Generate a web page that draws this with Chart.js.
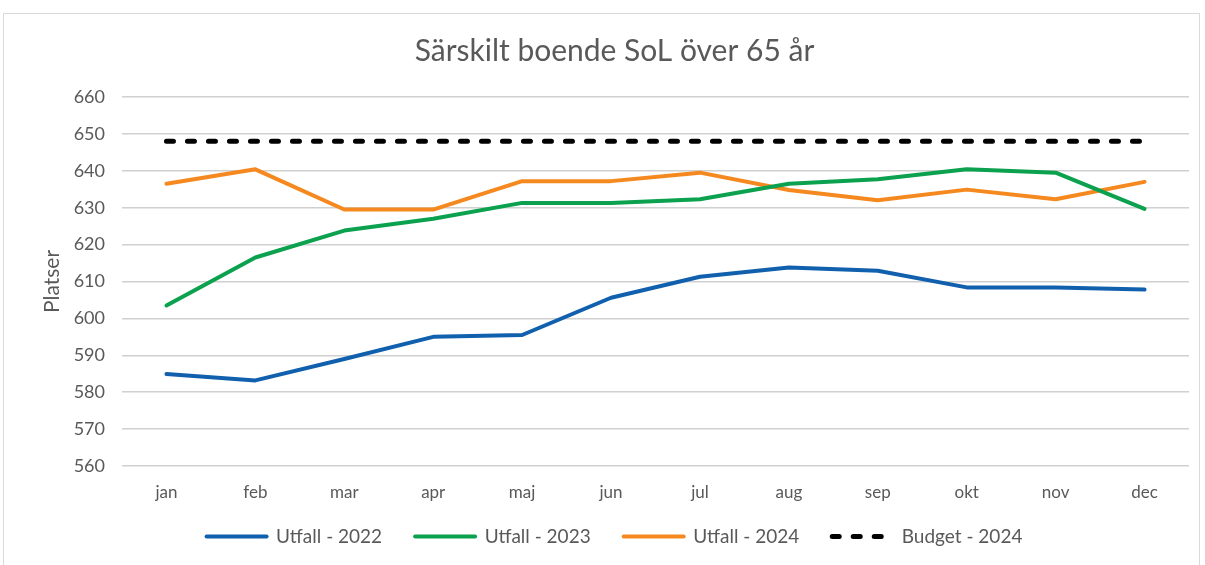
<!DOCTYPE html>
<html>
<head>
<meta charset="utf-8">
<script src="https://cdn.jsdelivr.net/npm/chart.js@4"></script>
<style>
  html, body { margin: 0; padding: 0; background: #fff; }
  #frame { position: absolute; left: 3px; top: 13px; width: 1197px; height: 560px; border: 1px solid #d9d9d9; box-sizing: border-box; }
  #wrap { position: absolute; left: 0; top: 0; width: 1205px; height: 565px; }
</style>
</head>
<body>
<div id="frame"></div>
<div id="wrap"><canvas id="c" width="1205" height="565"></canvas></div>
<script>
const months = ['jan','feb','mar','apr','maj','jun','jul','aug','sep','okt','nov','dec'];
const utfall2022 = [584.9, 583.2, 589.0, 595.0, 595.5, 605.6, 611.3, 613.8, 612.9, 608.4, 608.4, 607.8];
const utfall2023 = [603.5, 616.5, 623.8, 627.0, 631.3, 631.3, 632.3, 636.5, 637.7, 640.4, 639.5, 629.7];
const utfall2024 = [636.5, 640.4, 629.5, 629.5, 637.2, 637.2, 639.5, 634.8, 632.0, 634.9, 632.3, 637.0];
const budget2024 = [648, 648, 648, 648, 648, 648, 648, 648, 648, 648, 648, 648];
const yTicks = [560, 570, 580, 590, 600, 610, 620, 630, 640, 650, 660];

const FONT = 'Lato, "Open Sans", sans-serif';
const TXT = '#595959';

function ds(label, data, color, width, dash) {
  return {
    label, data,
    borderColor: color, backgroundColor: color,
    borderWidth: width,
    borderDash: dash || [],
    borderCapStyle: 'round',
    borderJoinStyle: 'round',
    pointRadius: 0, pointHoverRadius: 0,
    pointStyle: 'line',
    pointBorderWidth: width,
    tension: 0, fill: false
  };
}

// let the x-axis labels draw below the (shortened) axis box
const unclipXLabels = {
  id: 'unclipXLabels',
  afterLayout(chart) { chart.scales.x.bottom = chart.height; }
};

new Chart(document.getElementById('c'), {
  type: 'line',
  data: {
    labels: months,
    datasets: [
      ds('Utfall - 2022', utfall2022, '#1160AE', 4),
      ds('Utfall - 2023', utfall2023, '#0BA14F', 4),
      ds('Utfall - 2024', utfall2024, '#F5891F', 4),
      ds('Budget - 2024', budget2024, '#000000', 5, [7, 14])
    ]
  },
  plugins: [unclipXLabels],
  options: {
    responsive: false,
    animation: false,
    layout: { padding: { left: 40, right: 16, top: 0, bottom: 9 } },
    plugins: {
      title: {
        display: true,
        text: 'Särskilt boende SoL över 65 år',
        color: TXT,
        font: { family: FONT, size: 30, weight: 'normal' },
        padding: { top: 33, bottom: 28 }
      },
      legend: {
        position: 'bottom',
        labels: {
          usePointStyle: true,
          pointStyleWidth: 60,
          boxHeight: 4,
          color: TXT,
          font: { family: FONT, size: 19 },
          padding: 33,
          generateLabels: chart => {
            const items = Chart.defaults.plugins.legend.labels.generateLabels(chart);
            items.forEach(it => {
              const d = chart.data.datasets[it.datasetIndex];
              it.lineDash = d.borderDash;
              it.lineCap = 'round';
              it.lineWidth = d.borderWidth;
            });
            return items;
          }
        }
      },
      tooltip: { enabled: false }
    },
    scales: {
      x: {
        offset: true,
        grid: { display: false, drawTicks: false, offset: true },
        border: { display: false },
        ticks: { color: TXT, font: { family: FONT, size: 17 }, padding: 16, maxRotation: 0 },
        afterFit: s => { s.height = 28; }
      },
      y: {
        min: 560, max: 660,
        afterBuildTicks: s => { s.ticks = yTicks.map(v => ({ value: v })); },
        grid: { color: '#d0d0d0', lineWidth: 1.5, drawTicks: false },
        border: { display: false },
        title: { display: true, text: 'Platser', color: TXT, font: { family: FONT, size: 21 }, padding: { top: 0, bottom: 0 } },
        ticks: { color: TXT, font: { family: FONT, size: 18 }, padding: 17 },
        afterFit: s => { s.width = 82; }
      }
    }
  }
});
</script>
</body>
</html>
